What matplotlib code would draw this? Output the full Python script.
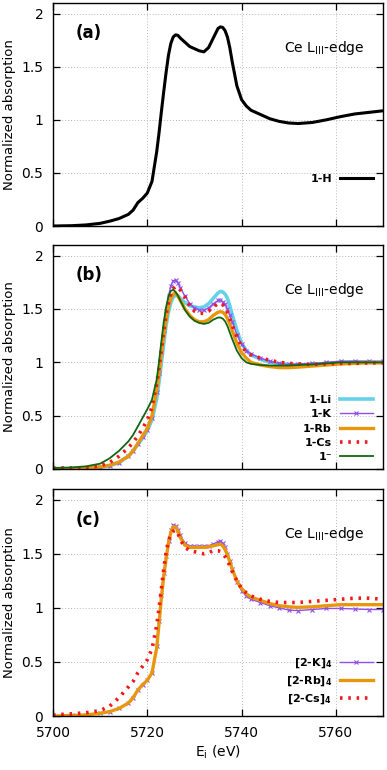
import numpy as np
import matplotlib
matplotlib.use("Agg")
import matplotlib.pyplot as plt

plt.rcParams.update({'font.family': 'DejaVu Sans', 'font.size': 10})

# shared energy grid (eV)
energy = [5700, 5704, 5707, 5710, 5712, 5714, 5716, 5717, 5718, 5719, 5720,
          5721, 5722, 5722.5, 5723, 5723.5, 5724, 5724.5, 5725, 5725.5, 5726,
          5726.5, 5727, 5728, 5729, 5730, 5731, 5732, 5733, 5734, 5735, 5735.5,
          5736, 5736.5, 5737, 5737.5, 5738, 5739, 5740, 5741, 5742, 5744, 5746,
          5748, 5750, 5752, 5755, 5758, 5761, 5764, 5767, 5770]

# ---- panel (a)
h_1H = [0.0, 0.003, 0.01, 0.025, 0.045, 0.07, 0.11, 0.15, 0.22, 0.26, 0.31,
        0.42, 0.70, 0.88, 1.08, 1.27, 1.45, 1.61, 1.72, 1.78, 1.80,
        1.795, 1.77, 1.73, 1.69, 1.67, 1.65, 1.64, 1.68, 1.77, 1.86, 1.875,
        1.87, 1.84, 1.78, 1.68, 1.55, 1.32, 1.19, 1.13, 1.09, 1.05, 1.01,
        0.985, 0.97, 0.965, 0.975, 1.00, 1.03, 1.055, 1.07, 1.085]

# ---- panel (b)
b_Li = [0.0, 0.002, 0.005, 0.015, 0.03, 0.06, 0.12, 0.17, 0.23, 0.29, 0.36,
        0.46, 0.66, 0.82, 1.0, 1.18, 1.35, 1.47, 1.56, 1.61, 1.63,
        1.625, 1.60, 1.56, 1.53, 1.52, 1.51, 1.52, 1.55, 1.60, 1.65, 1.665,
        1.66, 1.64, 1.60, 1.53, 1.45, 1.30, 1.18, 1.11, 1.07, 1.03, 1.0,
        0.985, 0.98, 0.975, 0.98, 0.99, 1.0, 1.005, 1.0, 1.0]
b_K = [0.0, 0.0, 0.005, 0.015, 0.03, 0.06, 0.12, 0.17, 0.23, 0.30, 0.37,
       0.48, 0.72, 0.90, 1.1, 1.30, 1.48, 1.62, 1.72, 1.765, 1.77,
       1.745, 1.70, 1.62, 1.55, 1.51, 1.49, 1.49, 1.51, 1.55, 1.58, 1.58,
       1.57, 1.545, 1.50, 1.44, 1.38, 1.26, 1.17, 1.11, 1.08, 1.04, 1.01,
       0.99, 0.98, 0.985, 0.99, 1.0, 1.01, 1.01, 1.01, 1.01]
b_Rb = [0.0, 0.003, 0.008, 0.02, 0.035, 0.065, 0.12, 0.17, 0.24, 0.31, 0.38,
        0.50, 0.74, 0.90, 1.08, 1.25, 1.40, 1.52, 1.60, 1.64, 1.65,
        1.62, 1.58, 1.50, 1.44, 1.40, 1.38, 1.38, 1.40, 1.44, 1.47, 1.475,
        1.47, 1.45, 1.41, 1.36, 1.30, 1.18, 1.09, 1.04, 1.0, 0.975, 0.96,
        0.95, 0.95, 0.955, 0.965, 0.975, 0.985, 0.99, 0.995, 0.995]
b_Cs = [0.01, 0.01, 0.01, 0.03, 0.06, 0.12, 0.20, 0.25, 0.31, 0.38, 0.46,
        0.58, 0.80, 0.95, 1.12, 1.30, 1.45, 1.56, 1.64, 1.69, 1.71,
        1.705, 1.68, 1.61, 1.53, 1.48, 1.46, 1.46, 1.48, 1.52, 1.55, 1.555,
        1.54, 1.51, 1.47, 1.41, 1.35, 1.24, 1.15, 1.10, 1.07, 1.04, 1.02,
        1.0, 0.99, 0.985, 0.98, 0.985, 0.99, 0.99, 0.995, 0.995]
b_anion = [0.01, 0.015, 0.025, 0.05, 0.10, 0.17, 0.26, 0.32, 0.40, 0.48, 0.56,
           0.65, 0.84, 1.01, 1.2, 1.38, 1.52, 1.62, 1.67, 1.68, 1.66,
           1.625, 1.58, 1.49, 1.43, 1.39, 1.37, 1.36, 1.37, 1.40, 1.42, 1.42,
           1.41, 1.385, 1.34, 1.28, 1.22, 1.11, 1.04, 1.0, 0.985, 0.975, 0.97,
           0.97, 0.97, 0.975, 0.98, 0.99, 1.0, 1.0, 1.0, 1.0]

# ---- panel (c)
c_K = [0.0, 0.005, 0.01, 0.025, 0.04, 0.07, 0.12, 0.17, 0.24, 0.29, 0.33,
       0.40, 0.65, 0.88, 1.12, 1.32, 1.48, 1.62, 1.72, 1.765, 1.76,
       1.72, 1.67, 1.60, 1.57, 1.57, 1.57, 1.57, 1.575, 1.59, 1.61, 1.615,
       1.60, 1.56, 1.50, 1.43, 1.36, 1.24, 1.16, 1.11, 1.08, 1.05, 1.02,
       1.0, 0.98, 0.975, 0.985, 0.995, 0.995, 0.99, 0.985, 0.985]
c_Rb = [0.0, 0.005, 0.01, 0.025, 0.04, 0.07, 0.12, 0.17, 0.24, 0.29, 0.33,
        0.40, 0.63, 0.86, 1.10, 1.30, 1.46, 1.60, 1.70, 1.75, 1.75,
        1.71, 1.65, 1.58, 1.56, 1.56, 1.56, 1.56, 1.565, 1.575, 1.585, 1.59,
        1.575, 1.54, 1.49, 1.43, 1.36, 1.25, 1.18, 1.13, 1.10, 1.07, 1.04,
        1.02, 1.01, 1.005, 1.01, 1.02, 1.03, 1.03, 1.03, 1.03]
c_Cs = [0.01, 0.02, 0.03, 0.05, 0.09, 0.17, 0.27, 0.32, 0.40, 0.46, 0.52,
        0.62, 0.84, 1.0, 1.18, 1.36, 1.52, 1.62, 1.68, 1.71, 1.72,
        1.69, 1.63, 1.56, 1.53, 1.52, 1.51, 1.50, 1.51, 1.53, 1.53, 1.52,
        1.50, 1.475, 1.44, 1.39, 1.34, 1.25, 1.18, 1.14, 1.11, 1.08, 1.06,
        1.05, 1.05, 1.05, 1.06, 1.07, 1.08, 1.09, 1.09, 1.08]

xticks = [5700, 5720, 5740, 5760]
yticks = [0, 0.5, 1, 1.5, 2]
ytick_labels = ['0', '0.5', '1', '1.5', '2']

c_cyan = '#66D2E8'
c_purple = '#9050E8'
c_orange = '#E8960C'
c_red = '#F01818'
c_green = '#116611'

fig = plt.figure(figsize=(3.87, 7.7), dpi=100)
left, width = 53 / 387, 330 / 387
ax_a = fig.add_axes([left, 544 / 770, width, 223 / 770])
ax_b = fig.add_axes([left, 301 / 770, width, 224 / 770])
ax_c = fig.add_axes([left, 54 / 770, width, 227 / 770])

dots = (0, (0.7, 1.6))

ax_a.plot(energy, h_1H, color='black', lw=2.2, label='1-H')

ax_b.plot(energy, b_Li, color=c_cyan, lw=2.6, label='1-Li')
ax_b.plot(energy, b_K, color=c_purple, lw=1.0, marker='x', ms=3, mew=0.8, label='1-K')
ax_b.plot(energy, b_Rb, color=c_orange, lw=2.4, label='1-Rb')
ax_b.plot(energy, b_Cs, color=c_red, lw=2.6, ls=dots, label='1-Cs')
ax_b.plot(energy, b_anion, color=c_green, lw=1.3, label='1⁻')

ax_c.plot(energy, c_K, color=c_purple, lw=1.0, marker='x', ms=3, mew=0.8, label=r'[2-K]$_\mathbf{4}$')
ax_c.plot(energy, c_Rb, color=c_orange, lw=2.4, label=r'[2-Rb]$_\mathbf{4}$')
ax_c.plot(energy, c_Cs, color=c_red, lw=2.6, ls=dots, label=r'[2-Cs]$_\mathbf{4}$')

legend_pos = {ax_a: (1.0, 0.142), ax_b: (1.0, -0.015), ax_c: (1.0, 0.0)}

for ax, tag in zip([ax_a, ax_b, ax_c], ['(a)', '(b)', '(c)']):
    ax.set_xlim(5700, 5770)
    ax.set_ylim(0, 2.1)
    ax.set_xticks(xticks)
    ax.set_yticks(yticks)
    ax.set_yticklabels(ytick_labels)
    ax.tick_params(direction='in', length=5, width=0.9, top=True, right=True,
                   labelsize=10, pad=7)
    ax.grid(True, color='#b8b8b8', ls=(0, (1, 2)), lw=0.7)
    for sp in ax.spines.values():
        sp.set_linewidth(1.0)
    ax.set_ylabel('Normalized absorption', fontsize=9.5, labelpad=4)
    ax.text(0.07, 0.865, tag, transform=ax.transAxes, fontsize=12,
            fontweight='bold', va='center', ha='left')
    ax.text(0.945, 0.80, r'Ce L$_{\rm III}$-edge', transform=ax.transAxes,
            fontsize=10, ha='right', va='center')
    leg = ax.legend(loc='lower right', bbox_to_anchor=legend_pos[ax],
                    frameon=False, markerfirst=False, numpoints=1,
                    handlelength=3.0, handletextpad=0.7, labelspacing=0.39,
                    prop={'weight': 'bold', 'size': 8})

ax_a.tick_params(labelbottom=False)
ax_b.tick_params(labelbottom=False)
ax_c.set_xlabel(r'E$_{\rm i}$ (eV)', fontsize=10, labelpad=3)

fig.savefig('out.png', dpi=100, facecolor='white')
